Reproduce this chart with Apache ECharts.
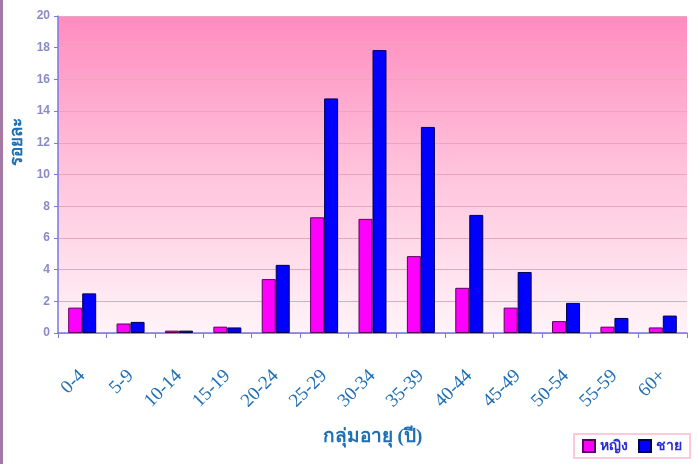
<!DOCTYPE html>
<html>
<head>
<meta charset="utf-8">
<script src="https://cdn.jsdelivr.net/npm/echarts@6/dist/echarts.min.js"></script>
<style>
  html, body { margin: 0; padding: 0; background: #fff; }
  #main { width: 698px; height: 464px; }
</style>
</head>
<body>
<div id="main"></div>
<script>
// age groups and percentages
var ageGroups = ['0-4', '5-9', '10-14', '15-19', '20-24', '25-29', '30-34', '35-39', '40-44', '45-49', '50-54', '55-59', '60+'];
var female = [1.6, 0.6, 0.15, 0.4, 3.4, 7.3, 7.2, 4.85, 2.85, 1.6, 0.75, 0.4, 0.35];
var male = [2.5, 0.7, 0.15, 0.35, 4.3, 14.8, 17.85, 13.0, 7.45, 3.85, 1.9, 0.95, 1.1];
var yTicks = [0, 2, 4, 6, 8, 10, 12, 14, 16, 18, 20];

var myChart = echarts.init(document.getElementById('main'));
var option = {
    backgroundColor: '#ffffff',
    animation: false,
    graphic: [
        { type: 'rect', left: 0, top: 0, shape: { x: 0, y: 0, width: 3, height: 464 },
          style: { fill: '#a47aa4' } },
        { type: 'text', x: 9, y: 166, rotation: Math.PI / 2,
          style: { text: 'รอยละ', fill: '#1f6fb4', font: 'bold 17px serif' } }
    ],
    grid: {
        left: 58, right: 11, top: 16, bottom: 131,
        show: true,
        borderWidth: 0,
        backgroundColor: new echarts.graphic.LinearGradient(0, 0, 0, 1, [
            { offset: 0, color: '#ff8cbf' },
            { offset: 0.5, color: '#ffc4dc' },
            { offset: 1, color: '#fff4f8' }
        ])
    },
    legend: {
        right: 8, bottom: 6,
        itemWidth: 12, itemHeight: 12, itemGap: 10,
        padding: [5, 8],
        borderColor: '#ffc8dc', borderWidth: 2,
        textStyle: { color: '#2b2bd6', fontSize: 14, fontWeight: 'bold', fontFamily: 'sans-serif' },
        data: [
            { name: 'หญิง', icon: 'rect' },
            { name: 'ชาย', icon: 'rect' }
        ]
    },
    xAxis: {
        type: 'category',
        data: ageGroups,
        name: 'กลุ่มอายุ (ปี)',
        nameLocation: 'middle',
        nameGap: 95,
        nameTextStyle: { color: '#1f6fb4', fontSize: 19, fontWeight: 'bold', fontFamily: 'serif' },
        axisLine: { lineStyle: { color: '#7878e0', width: 1.5 } },
        axisTick: { show: true, length: 5, lineStyle: { color: '#7878e0' } },
        axisLabel: {
            rotate: 45, margin: 40,
            color: '#1f6fb4', fontSize: 19, fontFamily: 'Liberation Serif, serif'
        }
    },
    yAxis: {
        type: 'value',
        min: 0, max: 20, interval: 2,
        axisLine: { show: true, lineStyle: { color: '#7878e0', width: 1.5 } },
        axisTick: { show: true, length: 4, lineStyle: { color: '#7878e0' } },
        axisLabel: {
            color: '#8a8ac8', fontSize: 12, fontWeight: 'bold', margin: 8,
            formatter: function (v) { return yTicks.indexOf(v) >= 0 ? v : ''; }
        },
        splitLine: { lineStyle: { color: '#e8a6c0', width: 1 } }
    },
    series: [
        {
            name: 'หญิง', type: 'bar', data: female,
            barWidth: 14, barGap: '0%',
            itemStyle: { color: '#ff00ff', borderColor: '#5a0060', borderWidth: 1 }
        },
        {
            name: 'ชาย', type: 'bar', data: male,
            barWidth: 14, barGap: '0%',
            itemStyle: { color: '#0000ff', borderColor: '#000050', borderWidth: 1 }
        }
    ]
};
myChart.setOption(option);
</script>
</body>
</html>
